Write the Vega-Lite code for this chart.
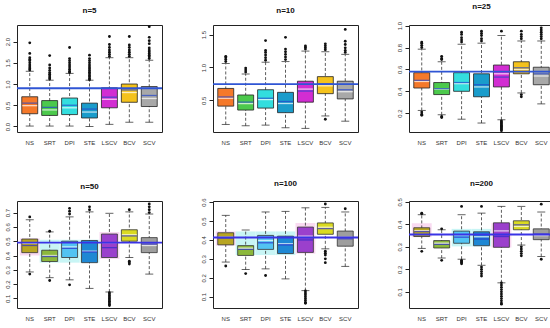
{
"$schema": "https://vega.github.io/schema/vega-lite/v6.json",
"padding": {"left": 3, "top": 2, "right": 0, "bottom": 0},
"background": "white",
"config": {
 "font": "Liberation Sans",
 "view": {"stroke": "#222", "strokeWidth": 1},
 "axisX": {"ticks": false, "domain": false, "grid": false, "labelAngle": 0, "labelFontSize": 6, "labelPadding": 7, "labelColor": "#333"},
 "axisY": {"tickSize": 4, "tickColor": "#222", "domain": false, "grid": false, "labelAngle": -90, "labelAlign": "center", "labelBaseline": "bottom", "labelFontSize": 6, "labelPadding": 3, "labelColor": "#333", "format": ".1f", "labelOverlap": false, "tickCount": 20},
 "title": {"fontSize": 8, "fontWeight": "bold", "offset": 10, "color": "#111"}
},
"datasets": {
 "boxes": [
  {"p":"n=5","m":"NS","lo":0.01,"q1":0.30,"med":0.49,"mean":0.55,"q3":0.70,"hi":1.30},
  {"p":"n=5","m":"SRT","lo":0.01,"q1":0.26,"med":0.39,"mean":0.45,"q3":0.61,"hi":1.09},
  {"p":"n=5","m":"DPI","lo":0.01,"q1":0.28,"med":0.44,"mean":0.50,"q3":0.67,"hi":1.25},
  {"p":"n=5","m":"STE","lo":0.0,"q1":0.20,"med":0.34,"mean":0.41,"q3":0.55,"hi":1.09},
  {"p":"n=5","m":"LSCV","lo":0.05,"q1":0.44,"med":0.64,"mean":0.69,"q3":0.91,"hi":1.62},
  {"p":"n=5","m":"BCV","lo":0.10,"q1":0.57,"med":0.80,"mean":0.86,"q3":1.00,"hi":1.62},
  {"p":"n=5","m":"SCV","lo":0.10,"q1":0.47,"med":0.66,"mean":0.73,"q3":0.94,"hi":1.56},
  {"p":"n=10","m":"NS","lo":0.13,"q1":0.41,"med":0.53,"mean":0.55,"q3":0.68,"hi":1.06},
  {"p":"n=10","m":"SRT","lo":0.11,"q1":0.35,"med":0.45,"mean":0.47,"q3":0.58,"hi":0.90},
  {"p":"n=10","m":"DPI","lo":0.12,"q1":0.38,"med":0.51,"mean":0.53,"q3":0.66,"hi":1.08},
  {"p":"n=10","m":"STE","lo":0.08,"q1":0.31,"med":0.45,"mean":0.48,"q3":0.62,"hi":1.09},
  {"p":"n=10","m":"LSCV","lo":0.07,"q1":0.47,"med":0.67,"mean":0.64,"q3":0.79,"hi":1.25},
  {"p":"n=10","m":"BCV","lo":0.26,"q1":0.60,"med":0.72,"mean":0.75,"q3":0.86,"hi":1.24},
  {"p":"n=10","m":"SCV","lo":0.18,"q1":0.52,"med":0.63,"mean":0.66,"q3":0.79,"hi":1.20},
  {"p":"n=25","m":"NS","lo":0.225,"q1":0.43,"med":0.49,"mean":0.50,"q3":0.57,"hi":0.785},
  {"p":"n=25","m":"SRT","lo":0.185,"q1":0.37,"med":0.42,"mean":0.425,"q3":0.48,"hi":0.67},
  {"p":"n=25","m":"DPI","lo":0.145,"q1":0.40,"med":0.47,"mean":0.48,"q3":0.57,"hi":0.83},
  {"p":"n=25","m":"STE","lo":0.11,"q1":0.35,"med":0.44,"mean":0.46,"q3":0.56,"hi":0.84},
  {"p":"n=25","m":"LSCV","lo":0.14,"q1":0.44,"med":0.56,"mean":0.53,"q3":0.64,"hi":0.91},
  {"p":"n=25","m":"BCV","lo":0.385,"q1":0.56,"med":0.60,"mean":0.615,"q3":0.67,"hi":0.86},
  {"p":"n=25","m":"SCV","lo":0.285,"q1":0.46,"med":0.54,"mean":0.56,"q3":0.62,"hi":0.86},
  {"p":"n=50","m":"NS","lo":0.285,"q1":0.42,"med":0.485,"mean":0.47,"q3":0.515,"hi":0.65},
  {"p":"n=50","m":"SRT","lo":0.245,"q1":0.358,"med":0.40,"mean":0.393,"q3":0.437,"hi":0.565},
  {"p":"n=50","m":"DPI","lo":0.23,"q1":0.386,"med":0.46,"mean":0.45,"q3":0.50,"hi":0.67},
  {"p":"n=50","m":"STE","lo":0.17,"q1":0.35,"med":0.43,"mean":0.425,"q3":0.505,"hi":0.705},
  {"p":"n=50","m":"LSCV","lo":0.145,"q1":0.386,"med":0.49,"mean":0.455,"q3":0.55,"hi":0.695},
  {"p":"n=50","m":"BCV","lo":0.386,"q1":0.50,"med":0.545,"mean":0.537,"q3":0.58,"hi":0.705},
  {"p":"n=50","m":"SCV","lo":0.27,"q1":0.42,"med":0.47,"mean":0.48,"q3":0.525,"hi":0.69},
  {"p":"n=100","m":"NS","lo":0.283,"q1":0.374,"med":0.415,"mean":0.41,"q3":0.438,"hi":0.53},
  {"p":"n=100","m":"SRT","lo":0.243,"q1":0.318,"med":0.356,"mean":0.35,"q3":0.37,"hi":0.452},
  {"p":"n=100","m":"DPI","lo":0.247,"q1":0.35,"med":0.397,"mean":0.385,"q3":0.424,"hi":0.548},
  {"p":"n=100","m":"STE","lo":0.194,"q1":0.328,"med":0.38,"mean":0.374,"q3":0.42,"hi":0.551},
  {"p":"n=100","m":"LSCV","lo":0.132,"q1":0.334,"med":0.42,"mean":0.40,"q3":0.468,"hi":0.57},
  {"p":"n=100","m":"BCV","lo":0.353,"q1":0.43,"med":0.467,"mean":0.46,"q3":0.49,"hi":0.572},
  {"p":"n=100","m":"SCV","lo":0.26,"q1":0.367,"med":0.414,"mean":0.406,"q3":0.447,"hi":0.548},
  {"p":"n=200","m":"NS","lo":0.293,"q1":0.346,"med":0.372,"mean":0.368,"q3":0.385,"hi":0.443},
  {"p":"n=200","m":"SRT","lo":0.25,"q1":0.295,"med":0.316,"mean":0.311,"q3":0.328,"hi":0.376},
  {"p":"n=200","m":"DPI","lo":0.245,"q1":0.316,"med":0.353,"mean":0.343,"q3":0.37,"hi":0.443},
  {"p":"n=200","m":"STE","lo":0.218,"q1":0.305,"med":0.345,"mean":0.335,"q3":0.367,"hi":0.45},
  {"p":"n=200","m":"LSCV","lo":0.14,"q1":0.298,"med":0.371,"mean":0.346,"q3":0.407,"hi":0.48},
  {"p":"n=200","m":"BCV","lo":0.308,"q1":0.376,"med":0.391,"mean":0.398,"q3":0.416,"hi":0.48},
  {"p":"n=200","m":"SCV","lo":0.257,"q1":0.332,"med":0.35,"mean":0.357,"q3":0.38,"hi":0.455}
 ],
 "outs": [
  {"p":"n=5","m":"NS","v":1.33},{"p":"n=5","m":"NS","v":1.36},{"p":"n=5","m":"NS","v":1.40},{"p":"n=5","m":"NS","v":1.45},{"p":"n=5","m":"NS","v":1.50},{"p":"n=5","m":"NS","v":1.55},{"p":"n=5","m":"NS","v":1.58},{"p":"n=5","m":"NS","v":1.62},{"p":"n=5","m":"NS","v":1.72},{"p":"n=5","m":"NS","v":1.97},
  {"p":"n=5","m":"SRT","v":1.12},{"p":"n=5","m":"SRT","v":1.15},{"p":"n=5","m":"SRT","v":1.19},{"p":"n=5","m":"SRT","v":1.23},{"p":"n=5","m":"SRT","v":1.27},{"p":"n=5","m":"SRT","v":1.32},{"p":"n=5","m":"SRT","v":1.38},{"p":"n=5","m":"SRT","v":1.45},{"p":"n=5","m":"SRT","v":1.67},
  {"p":"n=5","m":"DPI","v":1.27},{"p":"n=5","m":"DPI","v":1.30},{"p":"n=5","m":"DPI","v":1.35},{"p":"n=5","m":"DPI","v":1.40},{"p":"n=5","m":"DPI","v":1.45},{"p":"n=5","m":"DPI","v":1.50},{"p":"n=5","m":"DPI","v":1.55},{"p":"n=5","m":"DPI","v":1.60},{"p":"n=5","m":"DPI","v":1.86},
  {"p":"n=5","m":"STE","v":1.10},{"p":"n=5","m":"STE","v":1.13},{"p":"n=5","m":"STE","v":1.17},{"p":"n=5","m":"STE","v":1.20},{"p":"n=5","m":"STE","v":1.24},{"p":"n=5","m":"STE","v":1.28},{"p":"n=5","m":"STE","v":1.32},{"p":"n=5","m":"STE","v":1.36},{"p":"n=5","m":"STE","v":1.40},{"p":"n=5","m":"STE","v":1.45},{"p":"n=5","m":"STE","v":1.50},{"p":"n=5","m":"STE","v":1.55},{"p":"n=5","m":"STE","v":1.60},{"p":"n=5","m":"STE","v":1.68},
  {"p":"n=5","m":"LSCV","v":1.65},{"p":"n=5","m":"LSCV","v":1.70},{"p":"n=5","m":"LSCV","v":1.75},{"p":"n=5","m":"LSCV","v":1.80},{"p":"n=5","m":"LSCV","v":1.86},{"p":"n=5","m":"LSCV","v":1.93},{"p":"n=5","m":"LSCV","v":2.12},
  {"p":"n=5","m":"BCV","v":1.65},{"p":"n=5","m":"BCV","v":1.70},{"p":"n=5","m":"BCV","v":1.75},{"p":"n=5","m":"BCV","v":1.80},{"p":"n=5","m":"BCV","v":1.86},{"p":"n=5","m":"BCV","v":1.92},{"p":"n=5","m":"BCV","v":2.12},
  {"p":"n=5","m":"SCV","v":1.60},{"p":"n=5","m":"SCV","v":1.64},{"p":"n=5","m":"SCV","v":1.68},{"p":"n=5","m":"SCV","v":1.72},{"p":"n=5","m":"SCV","v":1.76},{"p":"n=5","m":"SCV","v":1.80},{"p":"n=5","m":"SCV","v":1.85},{"p":"n=5","m":"SCV","v":1.95},{"p":"n=5","m":"SCV","v":2.02},{"p":"n=5","m":"SCV","v":2.10},{"p":"n=5","m":"SCV","v":2.35},
  {"p":"n=10","m":"NS","v":1.09},{"p":"n=10","m":"NS","v":1.12},{"p":"n=10","m":"NS","v":1.15},{"p":"n=10","m":"NS","v":1.17},
  {"p":"n=10","m":"SRT","v":0.93},{"p":"n=10","m":"SRT","v":0.96},{"p":"n=10","m":"SRT","v":0.99},
  {"p":"n=10","m":"DPI","v":1.11},{"p":"n=10","m":"DPI","v":1.15},{"p":"n=10","m":"DPI","v":1.19},{"p":"n=10","m":"DPI","v":1.23},{"p":"n=10","m":"DPI","v":1.26},{"p":"n=10","m":"DPI","v":1.41},
  {"p":"n=10","m":"STE","v":1.12},{"p":"n=10","m":"STE","v":1.16},{"p":"n=10","m":"STE","v":1.20},{"p":"n=10","m":"STE","v":1.24},{"p":"n=10","m":"STE","v":1.28},{"p":"n=10","m":"STE","v":1.46},
  {"p":"n=10","m":"LSCV","v":1.28},{"p":"n=10","m":"LSCV","v":1.31},{"p":"n=10","m":"LSCV","v":1.33},
  {"p":"n=10","m":"BCV","v":1.27},{"p":"n=10","m":"BCV","v":1.30},{"p":"n=10","m":"BCV","v":1.33},{"p":"n=10","m":"BCV","v":1.36},{"p":"n=10","m":"BCV","v":0.21},
  {"p":"n=10","m":"SCV","v":1.23},{"p":"n=10","m":"SCV","v":1.26},{"p":"n=10","m":"SCV","v":1.30},{"p":"n=10","m":"SCV","v":1.35},{"p":"n=10","m":"SCV","v":1.40},{"p":"n=10","m":"SCV","v":1.58},
  {"p":"n=25","m":"NS","v":0.80},{"p":"n=25","m":"NS","v":0.82},{"p":"n=25","m":"NS","v":0.84},{"p":"n=25","m":"NS","v":0.85},{"p":"n=25","m":"NS","v":0.21},{"p":"n=25","m":"NS","v":0.19},{"p":"n=25","m":"NS","v":0.18},
  {"p":"n=25","m":"SRT","v":0.69},{"p":"n=25","m":"SRT","v":0.70},{"p":"n=25","m":"SRT","v":0.72},{"p":"n=25","m":"SRT","v":0.17},{"p":"n=25","m":"SRT","v":0.16},
  {"p":"n=25","m":"DPI","v":0.85},{"p":"n=25","m":"DPI","v":0.87},{"p":"n=25","m":"DPI","v":0.89},{"p":"n=25","m":"DPI","v":0.92},{"p":"n=25","m":"DPI","v":0.94},
  {"p":"n=25","m":"STE","v":0.86},{"p":"n=25","m":"STE","v":0.88},{"p":"n=25","m":"STE","v":0.91},{"p":"n=25","m":"STE","v":0.93},{"p":"n=25","m":"STE","v":0.95},
  {"p":"n=25","m":"LSCV","v":0.95},{"p":"n=25","m":"LSCV","v":0.13},{"p":"n=25","m":"LSCV","v":0.12},{"p":"n=25","m":"LSCV","v":0.11},{"p":"n=25","m":"LSCV","v":0.10},{"p":"n=25","m":"LSCV","v":0.09},{"p":"n=25","m":"LSCV","v":0.08},{"p":"n=25","m":"LSCV","v":0.07},{"p":"n=25","m":"LSCV","v":0.06},{"p":"n=25","m":"LSCV","v":0.05},{"p":"n=25","m":"LSCV","v":0.04},
  {"p":"n=25","m":"BCV","v":0.88},{"p":"n=25","m":"BCV","v":0.90},{"p":"n=25","m":"BCV","v":0.92},{"p":"n=25","m":"BCV","v":0.95},{"p":"n=25","m":"BCV","v":0.37},{"p":"n=25","m":"BCV","v":0.35},
  {"p":"n=25","m":"SCV","v":0.88},{"p":"n=25","m":"SCV","v":0.90},{"p":"n=25","m":"SCV","v":0.92},{"p":"n=25","m":"SCV","v":0.94},{"p":"n=25","m":"SCV","v":0.96},{"p":"n=25","m":"SCV","v":0.98},
  {"p":"n=50","m":"NS","v":0.67},{"p":"n=50","m":"NS","v":0.27},
  {"p":"n=50","m":"SRT","v":0.57},{"p":"n=50","m":"SRT","v":0.225},
  {"p":"n=50","m":"DPI","v":0.69},{"p":"n=50","m":"DPI","v":0.71},{"p":"n=50","m":"DPI","v":0.73},{"p":"n=50","m":"DPI","v":0.195},
  {"p":"n=50","m":"STE","v":0.72},{"p":"n=50","m":"STE","v":0.74},
  {"p":"n=50","m":"LSCV","v":0.14},{"p":"n=50","m":"LSCV","v":0.13},{"p":"n=50","m":"LSCV","v":0.12},{"p":"n=50","m":"LSCV","v":0.11},{"p":"n=50","m":"LSCV","v":0.10},{"p":"n=50","m":"LSCV","v":0.09},{"p":"n=50","m":"LSCV","v":0.08},{"p":"n=50","m":"LSCV","v":0.07},{"p":"n=50","m":"LSCV","v":0.06},{"p":"n=50","m":"LSCV","v":0.05},
  {"p":"n=50","m":"BCV","v":0.72},{"p":"n=50","m":"BCV","v":0.36},{"p":"n=50","m":"BCV","v":0.35},{"p":"n=50","m":"BCV","v":0.34},
  {"p":"n=50","m":"SCV","v":0.70},{"p":"n=50","m":"SCV","v":0.72},{"p":"n=50","m":"SCV","v":0.74},{"p":"n=50","m":"SCV","v":0.76},
  {"p":"n=100","m":"NS","v":0.262},
  {"p":"n=100","m":"SRT","v":0.222},
  {"p":"n=100","m":"DPI","v":0.212},
  {"p":"n=100","m":"LSCV","v":0.13},{"p":"n=100","m":"LSCV","v":0.12},{"p":"n=100","m":"LSCV","v":0.11},{"p":"n=100","m":"LSCV","v":0.10},{"p":"n=100","m":"LSCV","v":0.09},{"p":"n=100","m":"LSCV","v":0.08},{"p":"n=100","m":"LSCV","v":0.07},{"p":"n=100","m":"LSCV","v":0.065},
  {"p":"n=100","m":"BCV","v":0.59},{"p":"n=100","m":"BCV","v":0.34},{"p":"n=100","m":"BCV","v":0.33},{"p":"n=100","m":"BCV","v":0.32},{"p":"n=100","m":"BCV","v":0.30},{"p":"n=100","m":"BCV","v":0.28},
  {"p":"n=100","m":"SCV","v":0.565},
  {"p":"n=200","m":"NS","v":0.45},{"p":"n=200","m":"NS","v":0.447},{"p":"n=200","m":"NS","v":0.28},
  {"p":"n=200","m":"SRT","v":0.38},{"p":"n=200","m":"SRT","v":0.24},
  {"p":"n=200","m":"DPI","v":0.48},{"p":"n=200","m":"DPI","v":0.24},{"p":"n=200","m":"DPI","v":0.235},{"p":"n=200","m":"DPI","v":0.23},{"p":"n=200","m":"DPI","v":0.225},
  {"p":"n=200","m":"STE","v":0.48},{"p":"n=200","m":"STE","v":0.21},{"p":"n=200","m":"STE","v":0.20},{"p":"n=200","m":"STE","v":0.19},{"p":"n=200","m":"STE","v":0.18},{"p":"n=200","m":"STE","v":0.17},
  {"p":"n=200","m":"LSCV","v":0.14},{"p":"n=200","m":"LSCV","v":0.13},{"p":"n=200","m":"LSCV","v":0.12},{"p":"n=200","m":"LSCV","v":0.11},{"p":"n=200","m":"LSCV","v":0.10},{"p":"n=200","m":"LSCV","v":0.09},{"p":"n=200","m":"LSCV","v":0.08},{"p":"n=200","m":"LSCV","v":0.07},{"p":"n=200","m":"LSCV","v":0.06},{"p":"n=200","m":"LSCV","v":0.05},{"p":"n=200","m":"LSCV","v":0.045},
  {"p":"n=200","m":"BCV","v":0.30},{"p":"n=200","m":"BCV","v":0.29},{"p":"n=200","m":"BCV","v":0.28},{"p":"n=200","m":"BCV","v":0.27},{"p":"n=200","m":"BCV","v":0.26},
  {"p":"n=200","m":"SCV","v":0.49},{"p":"n=200","m":"SCV","v":0.245}
 ],
 "refs": [
  {"p":"n=5","v":0.90},{"p":"n=10","v":0.745},{"p":"n=25","v":0.58},
  {"p":"n=50","v":0.49},{"p":"n=100","v":0.413},{"p":"n=200","v":0.355}
 ],
 "bands": [
  {"p":"n=50","m":"NS","lo":0.40,"hi":0.52,"tone":"pink"},
  {"p":"n=50","m":"SRT","lo":0.35,"hi":0.51,"tone":"cyan"},
  {"p":"n=50","m":"DPI","lo":0.35,"hi":0.51,"tone":"cyan"},
  {"p":"n=50","m":"STE","lo":0.35,"hi":0.51,"tone":"cyan"},
  {"p":"n=50","m":"LSCV","lo":0.375,"hi":0.565,"tone":"pink"},
  {"p":"n=100","m":"NS","lo":0.37,"hi":0.445,"tone":"pink"},
  {"p":"n=100","m":"SRT","lo":0.32,"hi":0.445,"tone":"cyan"},
  {"p":"n=100","m":"DPI","lo":0.32,"hi":0.445,"tone":"cyan"},
  {"p":"n=100","m":"STE","lo":0.32,"hi":0.445,"tone":"cyan"},
  {"p":"n=100","m":"LSCV","lo":0.327,"hi":0.49,"tone":"pink"},
  {"p":"n=200","m":"NS","lo":0.343,"hi":0.405,"tone":"pink"},
  {"p":"n=200","m":"DPI","lo":0.302,"hi":0.38,"tone":"cyan"},
  {"p":"n=200","m":"STE","lo":0.302,"hi":0.38,"tone":"cyan"},
  {"p":"n=200","m":"LSCV","lo":0.297,"hi":0.405,"tone":"pink"}
 ]
},
"resolve": {"scale": {"color": "independent", "fill": "independent"}},
"spacing": 33,
"vconcat": [
 {"hconcat": [
  {"width": 145, "height": 107, "title": "n=5", "layer": [
   {"data": {"name": "boxes"}, "transform": [{"filter": "datum.p=='n=5'"}], "mark": {"type": "rule", "strokeDash": [3, 2], "color": "#333", "strokeWidth": 0.8},
    "encoding": {"x": {"field": "m", "type": "nominal", "title": null, "scale": {"domain": ["NS","SRT","DPI","STE","LSCV","BCV","SCV"], "paddingInner": 0.2, "paddingOuter": 0.24}},
     "y": {"field": "lo", "type": "quantitative", "title": null, "scale": {"domain": [-0.13, 2.39], "nice": false, "zero": false}, "axis": {"values": [0, 0.5, 1, 1.5, 2], "tickCount": 20, "labelOverlap": false}}, "y2": {"field": "hi"}}},
   {"data": {"name": "boxes"}, "transform": [{"filter": "datum.p=='n=5'"}], "mark": {"type": "tick", "size": 8, "thickness": 1, "color": "#222"}, "encoding": {"x": {"field": "m", "type": "nominal", "title": null}, "y": {"field": "lo", "type": "quantitative", "title": null}}},
   {"data": {"name": "boxes"}, "transform": [{"filter": "datum.p=='n=5'"}], "mark": {"type": "tick", "size": 8, "thickness": 1, "color": "#222"}, "encoding": {"x": {"field": "m", "type": "nominal", "title": null}, "y": {"field": "hi", "type": "quantitative", "title": null}}},
   {"data": {"name": "boxes"}, "transform": [{"filter": "datum.p=='n=5'"}], "mark": {"type": "bar", "stroke": "#222", "strokeWidth": 0.8}, "encoding": {"x": {"field": "m", "type": "nominal", "title": null}, "y": {"field": "q1", "type": "quantitative", "title": null}, "y2": {"field": "q3"}, "color": {"field": "m", "type": "nominal", "legend": null, "scale": {"domain": ["NS","SRT","DPI","STE","LSCV","BCV","SCV"], "range": ["#F5792A","#4CC94C","#33DEDE","#1A9CCB","#D22DD2","#F4C21C","#A8A8A8"]}}}},
   {"data": {"name": "boxes"}, "transform": [{"filter": "datum.p=='n=5'"}], "mark": {"type": "tick", "size": 15, "thickness": 1.3, "color": "white"}, "encoding": {"x": {"field": "m", "type": "nominal", "title": null}, "y": {"field": "med", "type": "quantitative", "title": null}}},
   {"data": {"name": "boxes"}, "transform": [{"filter": "datum.p=='n=5'"}], "mark": {"type": "tick", "size": 15, "thickness": 1.3, "color": "#2244CC"}, "encoding": {"x": {"field": "m", "type": "nominal", "title": null}, "y": {"field": "mean", "type": "quantitative", "title": null}}},
   {"data": {"name": "outs"}, "transform": [{"filter": "datum.p=='n=5'"}], "mark": {"type": "circle", "size": 8, "color": "#111", "opacity": 1}, "encoding": {"x": {"field": "m", "type": "nominal", "title": null}, "y": {"field": "v", "type": "quantitative", "title": null}}},
   {"data": {"name": "refs"}, "transform": [{"filter": "datum.p=='n=5'"}], "mark": {"type": "rule", "color": "#2F55D4", "strokeWidth": 1.8}, "encoding": {"y": {"field": "v", "type": "quantitative", "title": null}}}
  ]},
  {"width": 145, "height": 107, "title": "n=10", "layer": [
   {"data": {"name": "boxes"}, "transform": [{"filter": "datum.p=='n=10'"}], "mark": {"type": "rule", "strokeDash": [3, 2], "color": "#333", "strokeWidth": 0.8},
    "encoding": {"x": {"field": "m", "type": "nominal", "title": null, "scale": {"domain": ["NS","SRT","DPI","STE","LSCV","BCV","SCV"], "paddingInner": 0.2, "paddingOuter": 0.24}},
     "y": {"field": "lo", "type": "quantitative", "title": null, "scale": {"domain": [0.015, 1.648], "nice": false, "zero": false}, "axis": {"values": [0.5, 1, 1.5], "tickCount": 20, "labelOverlap": false}}, "y2": {"field": "hi"}}},
   {"data": {"name": "boxes"}, "transform": [{"filter": "datum.p=='n=10'"}], "mark": {"type": "tick", "size": 8, "thickness": 1, "color": "#222"}, "encoding": {"x": {"field": "m", "type": "nominal", "title": null}, "y": {"field": "lo", "type": "quantitative", "title": null}}},
   {"data": {"name": "boxes"}, "transform": [{"filter": "datum.p=='n=10'"}], "mark": {"type": "tick", "size": 8, "thickness": 1, "color": "#222"}, "encoding": {"x": {"field": "m", "type": "nominal", "title": null}, "y": {"field": "hi", "type": "quantitative", "title": null}}},
   {"data": {"name": "boxes"}, "transform": [{"filter": "datum.p=='n=10'"}], "mark": {"type": "bar", "stroke": "#222", "strokeWidth": 0.8}, "encoding": {"x": {"field": "m", "type": "nominal", "title": null}, "y": {"field": "q1", "type": "quantitative", "title": null}, "y2": {"field": "q3"}, "color": {"field": "m", "type": "nominal", "legend": null, "scale": {"domain": ["NS","SRT","DPI","STE","LSCV","BCV","SCV"], "range": ["#F5792A","#4CC94C","#33DEDE","#1A9CCB","#D22DD2","#F4C21C","#A8A8A8"]}}}},
   {"data": {"name": "boxes"}, "transform": [{"filter": "datum.p=='n=10'"}], "mark": {"type": "tick", "size": 15, "thickness": 1.3, "color": "white"}, "encoding": {"x": {"field": "m", "type": "nominal", "title": null}, "y": {"field": "med", "type": "quantitative", "title": null}}},
   {"data": {"name": "boxes"}, "transform": [{"filter": "datum.p=='n=10'"}], "mark": {"type": "tick", "size": 15, "thickness": 1.3, "color": "#2244CC"}, "encoding": {"x": {"field": "m", "type": "nominal", "title": null}, "y": {"field": "mean", "type": "quantitative", "title": null}}},
   {"data": {"name": "outs"}, "transform": [{"filter": "datum.p=='n=10'"}], "mark": {"type": "circle", "size": 8, "color": "#111", "opacity": 1}, "encoding": {"x": {"field": "m", "type": "nominal", "title": null}, "y": {"field": "v", "type": "quantitative", "title": null}}},
   {"data": {"name": "refs"}, "transform": [{"filter": "datum.p=='n=10'"}], "mark": {"type": "rule", "color": "#2F55D4", "strokeWidth": 1.8}, "encoding": {"y": {"field": "v", "type": "quantitative", "title": null}}}
  ]},
  {"width": 145, "height": 107, "title": "n=25", "layer": [
   {"data": {"name": "boxes"}, "transform": [{"filter": "datum.p=='n=25'"}], "mark": {"type": "rule", "strokeDash": [3, 2], "color": "#333", "strokeWidth": 0.8},
    "encoding": {"x": {"field": "m", "type": "nominal", "title": null, "scale": {"domain": ["NS","SRT","DPI","STE","LSCV","BCV","SCV"], "paddingInner": 0.2, "paddingOuter": 0.24}},
     "y": {"field": "lo", "type": "quantitative", "title": null, "scale": {"domain": [0.028, 1.006], "nice": false, "zero": false}, "axis": {"values": [0.2, 0.4, 0.6, 0.8, 1.0], "tickCount": 20, "labelOverlap": false}}, "y2": {"field": "hi"}}},
   {"data": {"name": "boxes"}, "transform": [{"filter": "datum.p=='n=25'"}], "mark": {"type": "tick", "size": 8, "thickness": 1, "color": "#222"}, "encoding": {"x": {"field": "m", "type": "nominal", "title": null}, "y": {"field": "lo", "type": "quantitative", "title": null}}},
   {"data": {"name": "boxes"}, "transform": [{"filter": "datum.p=='n=25'"}], "mark": {"type": "tick", "size": 8, "thickness": 1, "color": "#222"}, "encoding": {"x": {"field": "m", "type": "nominal", "title": null}, "y": {"field": "hi", "type": "quantitative", "title": null}}},
   {"data": {"name": "boxes"}, "transform": [{"filter": "datum.p=='n=25'"}], "mark": {"type": "bar", "stroke": "#222", "strokeWidth": 0.8}, "encoding": {"x": {"field": "m", "type": "nominal", "title": null}, "y": {"field": "q1", "type": "quantitative", "title": null}, "y2": {"field": "q3"}, "color": {"field": "m", "type": "nominal", "legend": null, "scale": {"domain": ["NS","SRT","DPI","STE","LSCV","BCV","SCV"], "range": ["#F5792A","#4CC94C","#33DEDE","#1A9CCB","#D22DD2","#F4C21C","#A8A8A8"]}}}},
   {"data": {"name": "boxes"}, "transform": [{"filter": "datum.p=='n=25'"}], "mark": {"type": "tick", "size": 15, "thickness": 1.3, "color": "white"}, "encoding": {"x": {"field": "m", "type": "nominal", "title": null}, "y": {"field": "med", "type": "quantitative", "title": null}}},
   {"data": {"name": "boxes"}, "transform": [{"filter": "datum.p=='n=25'"}], "mark": {"type": "tick", "size": 15, "thickness": 1.3, "color": "#2244CC"}, "encoding": {"x": {"field": "m", "type": "nominal", "title": null}, "y": {"field": "mean", "type": "quantitative", "title": null}}},
   {"data": {"name": "outs"}, "transform": [{"filter": "datum.p=='n=25'"}], "mark": {"type": "circle", "size": 8, "color": "#111", "opacity": 1}, "encoding": {"x": {"field": "m", "type": "nominal", "title": null}, "y": {"field": "v", "type": "quantitative", "title": null}}},
   {"data": {"name": "refs"}, "transform": [{"filter": "datum.p=='n=25'"}], "mark": {"type": "rule", "color": "#2F55D4", "strokeWidth": 1.8}, "encoding": {"y": {"field": "v", "type": "quantitative", "title": null}}}
  ]}
 ], "spacing": 35},
 {"hconcat": [
  {"width": 145, "height": 107, "title": "n=50", "layer": [
   {"data": {"name": "bands"}, "transform": [{"filter": "datum.p=='n=50'"}], "mark": {"type": "bar", "width": {"band": 1.25}}, "encoding": {"x": {"field": "m", "type": "nominal", "title": null, "scale": {"domain": ["NS","SRT","DPI","STE","LSCV","BCV","SCV"], "paddingInner": 0.2, "paddingOuter": 0.24}}, "y": {"field": "lo", "type": "quantitative", "title": null, "scale": {"domain": [0.033, 0.781], "nice": false, "zero": false}, "axis": {"values": [0.1, 0.2, 0.3, 0.4, 0.5, 0.6, 0.7], "tickCount": 20, "labelOverlap": false}}, "y2": {"field": "hi"}, "fill": {"field": "tone", "type": "nominal", "legend": null, "scale": {"domain": ["pink", "cyan"], "range": ["#F9DAF1", "#C8F5F5"]}}}},
   {"data": {"name": "boxes"}, "transform": [{"filter": "datum.p=='n=50'"}], "mark": {"type": "rule", "strokeDash": [3, 2], "color": "#333", "strokeWidth": 0.8}, "encoding": {"x": {"field": "m", "type": "nominal", "title": null}, "y": {"field": "lo", "type": "quantitative", "title": null}, "y2": {"field": "hi"}}},
   {"data": {"name": "boxes"}, "transform": [{"filter": "datum.p=='n=50'"}], "mark": {"type": "tick", "size": 8, "thickness": 1, "color": "#222"}, "encoding": {"x": {"field": "m", "type": "nominal", "title": null}, "y": {"field": "lo", "type": "quantitative", "title": null}}},
   {"data": {"name": "boxes"}, "transform": [{"filter": "datum.p=='n=50'"}], "mark": {"type": "tick", "size": 8, "thickness": 1, "color": "#222"}, "encoding": {"x": {"field": "m", "type": "nominal", "title": null}, "y": {"field": "hi", "type": "quantitative", "title": null}}},
   {"data": {"name": "boxes"}, "transform": [{"filter": "datum.p=='n=50'"}], "mark": {"type": "bar", "stroke": "#333", "strokeWidth": 0.8}, "encoding": {"x": {"field": "m", "type": "nominal", "title": null}, "y": {"field": "q1", "type": "quantitative", "title": null}, "y2": {"field": "q3"}, "color": {"field": "m", "type": "nominal", "legend": null, "scale": {"domain": ["NS","SRT","DPI","STE","LSCV","BCV","SCV"], "range": ["#B8A522","#8CB83C","#52C3F2","#1E88D4","#9B40CC","#DADA22","#9E9E9E"]}}}},
   {"data": {"name": "boxes"}, "transform": [{"filter": "datum.p=='n=50'"}], "mark": {"type": "tick", "size": 15, "thickness": 1.3, "color": "white"}, "encoding": {"x": {"field": "m", "type": "nominal", "title": null}, "y": {"field": "med", "type": "quantitative", "title": null}}},
   {"data": {"name": "boxes"}, "transform": [{"filter": "datum.p=='n=50'"}], "mark": {"type": "tick", "size": 15, "thickness": 1.3, "color": "#2A2ACC"}, "encoding": {"x": {"field": "m", "type": "nominal", "title": null}, "y": {"field": "mean", "type": "quantitative", "title": null}}},
   {"data": {"name": "outs"}, "transform": [{"filter": "datum.p=='n=50'"}], "mark": {"type": "circle", "size": 8, "color": "#111", "opacity": 1}, "encoding": {"x": {"field": "m", "type": "nominal", "title": null}, "y": {"field": "v", "type": "quantitative", "title": null}}},
   {"data": {"name": "refs"}, "transform": [{"filter": "datum.p=='n=50'"}], "mark": {"type": "rule", "color": "#3A33E6", "strokeWidth": 1.8}, "encoding": {"y": {"field": "v", "type": "quantitative", "title": null}}}
  ]},
  {"width": 145, "height": 107, "title": "n=100", "layer": [
   {"data": {"name": "bands"}, "transform": [{"filter": "datum.p=='n=100'"}], "mark": {"type": "bar", "width": {"band": 1.25}}, "encoding": {"x": {"field": "m", "type": "nominal", "title": null, "scale": {"domain": ["NS","SRT","DPI","STE","LSCV","BCV","SCV"], "paddingInner": 0.2, "paddingOuter": 0.24}}, "y": {"field": "lo", "type": "quantitative", "title": null, "scale": {"domain": [0.04, 0.606], "nice": false, "zero": false}, "axis": {"values": [0.1, 0.2, 0.3, 0.4, 0.5, 0.6], "tickCount": 20, "labelOverlap": false}}, "y2": {"field": "hi"}, "fill": {"field": "tone", "type": "nominal", "legend": null, "scale": {"domain": ["pink", "cyan"], "range": ["#F9DAF1", "#C8F5F5"]}}}},
   {"data": {"name": "boxes"}, "transform": [{"filter": "datum.p=='n=100'"}], "mark": {"type": "rule", "strokeDash": [3, 2], "color": "#333", "strokeWidth": 0.8}, "encoding": {"x": {"field": "m", "type": "nominal", "title": null}, "y": {"field": "lo", "type": "quantitative", "title": null}, "y2": {"field": "hi"}}},
   {"data": {"name": "boxes"}, "transform": [{"filter": "datum.p=='n=100'"}], "mark": {"type": "tick", "size": 8, "thickness": 1, "color": "#222"}, "encoding": {"x": {"field": "m", "type": "nominal", "title": null}, "y": {"field": "lo", "type": "quantitative", "title": null}}},
   {"data": {"name": "boxes"}, "transform": [{"filter": "datum.p=='n=100'"}], "mark": {"type": "tick", "size": 8, "thickness": 1, "color": "#222"}, "encoding": {"x": {"field": "m", "type": "nominal", "title": null}, "y": {"field": "hi", "type": "quantitative", "title": null}}},
   {"data": {"name": "boxes"}, "transform": [{"filter": "datum.p=='n=100'"}], "mark": {"type": "bar", "stroke": "#333", "strokeWidth": 0.8}, "encoding": {"x": {"field": "m", "type": "nominal", "title": null}, "y": {"field": "q1", "type": "quantitative", "title": null}, "y2": {"field": "q3"}, "color": {"field": "m", "type": "nominal", "legend": null, "scale": {"domain": ["NS","SRT","DPI","STE","LSCV","BCV","SCV"], "range": ["#B8A522","#8CB83C","#52C3F2","#1E88D4","#9B40CC","#DADA22","#9E9E9E"]}}}},
   {"data": {"name": "boxes"}, "transform": [{"filter": "datum.p=='n=100'"}], "mark": {"type": "tick", "size": 15, "thickness": 1.3, "color": "white"}, "encoding": {"x": {"field": "m", "type": "nominal", "title": null}, "y": {"field": "med", "type": "quantitative", "title": null}}},
   {"data": {"name": "boxes"}, "transform": [{"filter": "datum.p=='n=100'"}], "mark": {"type": "tick", "size": 15, "thickness": 1.3, "color": "#2A2ACC"}, "encoding": {"x": {"field": "m", "type": "nominal", "title": null}, "y": {"field": "mean", "type": "quantitative", "title": null}}},
   {"data": {"name": "outs"}, "transform": [{"filter": "datum.p=='n=100'"}], "mark": {"type": "circle", "size": 8, "color": "#111", "opacity": 1}, "encoding": {"x": {"field": "m", "type": "nominal", "title": null}, "y": {"field": "v", "type": "quantitative", "title": null}}},
   {"data": {"name": "refs"}, "transform": [{"filter": "datum.p=='n=100'"}], "mark": {"type": "rule", "color": "#3A33E6", "strokeWidth": 1.8}, "encoding": {"y": {"field": "v", "type": "quantitative", "title": null}}}
  ]},
  {"width": 145, "height": 107, "title": "n=200", "layer": [
   {"data": {"name": "bands"}, "transform": [{"filter": "datum.p=='n=200'"}], "mark": {"type": "bar", "width": {"band": 1.25}}, "encoding": {"x": {"field": "m", "type": "nominal", "title": null, "scale": {"domain": ["NS","SRT","DPI","STE","LSCV","BCV","SCV"], "paddingInner": 0.2, "paddingOuter": 0.24}}, "y": {"field": "lo", "type": "quantitative", "title": null, "scale": {"domain": [0.028, 0.504], "nice": false, "zero": false}, "axis": {"values": [0.1, 0.2, 0.3, 0.4, 0.5], "tickCount": 20, "labelOverlap": false}}, "y2": {"field": "hi"}, "fill": {"field": "tone", "type": "nominal", "legend": null, "scale": {"domain": ["pink", "cyan"], "range": ["#F9DAF1", "#C8F5F5"]}}}},
   {"data": {"name": "boxes"}, "transform": [{"filter": "datum.p=='n=200'"}], "mark": {"type": "rule", "strokeDash": [3, 2], "color": "#333", "strokeWidth": 0.8}, "encoding": {"x": {"field": "m", "type": "nominal", "title": null}, "y": {"field": "lo", "type": "quantitative", "title": null}, "y2": {"field": "hi"}}},
   {"data": {"name": "boxes"}, "transform": [{"filter": "datum.p=='n=200'"}], "mark": {"type": "tick", "size": 8, "thickness": 1, "color": "#222"}, "encoding": {"x": {"field": "m", "type": "nominal", "title": null}, "y": {"field": "lo", "type": "quantitative", "title": null}}},
   {"data": {"name": "boxes"}, "transform": [{"filter": "datum.p=='n=200'"}], "mark": {"type": "tick", "size": 8, "thickness": 1, "color": "#222"}, "encoding": {"x": {"field": "m", "type": "nominal", "title": null}, "y": {"field": "hi", "type": "quantitative", "title": null}}},
   {"data": {"name": "boxes"}, "transform": [{"filter": "datum.p=='n=200'"}], "mark": {"type": "bar", "stroke": "#333", "strokeWidth": 0.8}, "encoding": {"x": {"field": "m", "type": "nominal", "title": null}, "y": {"field": "q1", "type": "quantitative", "title": null}, "y2": {"field": "q3"}, "color": {"field": "m", "type": "nominal", "legend": null, "scale": {"domain": ["NS","SRT","DPI","STE","LSCV","BCV","SCV"], "range": ["#B8A522","#8CB83C","#52C3F2","#1E88D4","#9B40CC","#DADA22","#9E9E9E"]}}}},
   {"data": {"name": "boxes"}, "transform": [{"filter": "datum.p=='n=200'"}], "mark": {"type": "tick", "size": 15, "thickness": 1.3, "color": "white"}, "encoding": {"x": {"field": "m", "type": "nominal", "title": null}, "y": {"field": "med", "type": "quantitative", "title": null}}},
   {"data": {"name": "boxes"}, "transform": [{"filter": "datum.p=='n=200'"}], "mark": {"type": "tick", "size": 15, "thickness": 1.3, "color": "#2A2ACC"}, "encoding": {"x": {"field": "m", "type": "nominal", "title": null}, "y": {"field": "mean", "type": "quantitative", "title": null}}},
   {"data": {"name": "outs"}, "transform": [{"filter": "datum.p=='n=200'"}], "mark": {"type": "circle", "size": 8, "color": "#111", "opacity": 1}, "encoding": {"x": {"field": "m", "type": "nominal", "title": null}, "y": {"field": "v", "type": "quantitative", "title": null}}},
   {"data": {"name": "refs"}, "transform": [{"filter": "datum.p=='n=200'"}], "mark": {"type": "rule", "color": "#3A33E6", "strokeWidth": 1.8}, "encoding": {"y": {"field": "v", "type": "quantitative", "title": null}}}
  ]}
 ], "spacing": 35}
]
}
